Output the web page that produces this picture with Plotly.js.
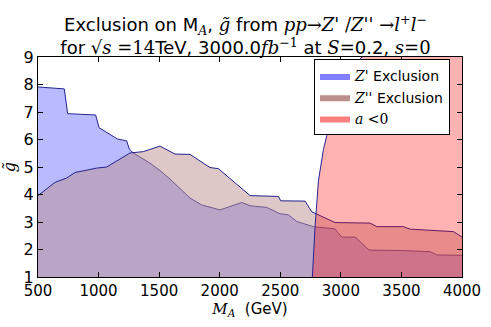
<!DOCTYPE html>
<html>
<head>
<meta charset="utf-8">
<script src="https://cdn.plot.ly/plotly-3.0.1.min.js"></script>
<style>
  body { margin: 0; background: #fff; }
  #myDiv { width: 491px; height: 327px; }
</style>
</head>
<body>
<div id="myDiv"></div>
<script>
// Z' exclusion boundary (M_A in GeV, g~)
var zpM = [500, 717, 745, 976, 1004, 1155, 1232, 1254, 1287, 1425, 1507, 1590, 1755, 1851, 2003, 2182, 2251, 2388, 2498, 2567, 2636, 2773, 2952, 3007, 3118, 3233, 3517, 3737, 3792, 4000];
var zpG = [7.91, 7.84, 6.94, 6.89, 6.43, 6.02, 5.95, 5.65, 5.51, 5.14, 4.87, 4.56, 3.87, 3.62, 3.44, 3.71, 3.59, 3.53, 3.30, 3.26, 3.02, 2.83, 2.75, 2.45, 2.45, 1.98, 1.96, 1.92, 1.80, 1.79];

// Z'' exclusion boundary
var zppM = [500, 640, 737, 806, 985, 1067, 1260, 1370, 1507, 1631, 1755, 1920, 1989, 2251, 2485, 2504, 2705, 2760, 2952, 3241, 3297, 3517, 3572, 3930, 4000];
var zppG = [3.96, 4.44, 4.60, 4.80, 4.96, 5.00, 5.51, 5.56, 5.76, 5.47, 5.46, 4.98, 4.94, 3.96, 3.93, 3.77, 3.76, 3.37, 2.98, 2.96, 2.83, 2.83, 2.74, 2.65, 2.45];

// a<0 boundary, region to the right of it
var aM = [2765, 2787, 2815, 2856, 2884, 2950, 3050, 3145, 3175];
var aG = [1, 2.83, 4.5, 5.63, 6.15, 7.0, 8.0, 8.85, 9];
var xMax = 4000, yMin = 1, yMax = 9;

var xTicks = [500, 1000, 1500, 2000, 2500, 3000, 3500, 4000];
var yTicks = [1, 2, 3, 4, 5, 6, 7, 8, 9];

var edge = 'rgb(35,35,145)';
var serif = "font-family:'DejaVu Serif'";

function m(s) {
    return '<span style="' + serif + '">' + s + '</span>';
}

var names = [m("<i>Z'</i>") + ' Exclusion', m("<i>Z''</i>") + ' Exclusion', m('<i>a</i> &lt;0')];
var legendColors = ['rgba(0,0,255,0.5)', 'rgb(188,143,143)', 'rgba(255,0,0,0.5)'];

var trace0 = {
    x: zpM, y: zpG,
    type: 'scatter', mode: 'lines',
    fill: 'tozeroy',
    fillcolor: 'rgba(0,0,255,0.27)',
    line: {color: edge, width: 1},
    showlegend: false, hoverinfo: 'skip'
};
var trace1 = {
    x: zppM, y: zppG,
    type: 'scatter', mode: 'lines',
    fill: 'tozeroy',
    fillcolor: 'rgba(188,143,143,0.5)',
    line: {color: edge, width: 1},
    showlegend: false, hoverinfo: 'skip'
};
var trace2 = {
    x: aM.concat([xMax, xMax]),
    y: aG.concat([yMax, yMin]),
    type: 'scatter', mode: 'lines',
    fill: 'toself',
    fillcolor: 'rgba(255,0,0,0.3)',
    line: {width: 0},
    showlegend: false, hoverinfo: 'skip'
};
var line2 = {x: aM, y: aG, type: 'scatter', mode: 'lines', line: {color: edge, width: 1}, showlegend: false, hoverinfo: 'skip'};

// legend proxies
var data = [trace0, trace1, trace2, line2];
for (var i = 0; i < 3; i++) {
    data.push({
        x: [null], y: [null],
        type: 'scatter', mode: 'lines',
        fill: 'toself',
        fillcolor: legendColors[i],
        line: {width: 0},
        name: names[i]
    });
}

var layout = {
    width: 491,
    height: 327,
    margin: {l: 38, r: 29, t: 57, b: 50},
    paper_bgcolor: 'white',
    plot_bgcolor: 'white',
    font: {family: 'DejaVu Sans', size: 15, color: 'black'},
    title: {
        text: 'Exclusion on M<sub>' + m('<i>A</i>') + '</sub>, ' + m('<i>g̃</i>') + ' from ' +
              m('<i>pp</i>→<i>Z\'</i> /<i>Z\'\'</i> →<i>l</i><sup>+</sup><i>l</i><sup>−</sup>') +
              '<br>for ' + m('√<i>s</i> =14') + 'TeV, 3000.0' + m('<i>fb</i><sup>−1</sup>') +
              ' at ' + m('<i>S</i>=') + '0.2, ' + m('<i>s</i>=0'),
        font: {size: 18},
        x: 0.5, xanchor: 'center',
        y: 0.905, yanchor: 'top'
    },
    xaxis: {
        range: [500, 4000],
        tickvals: xTicks,
        ticks: 'inside', ticklen: 5, tickcolor: 'black',
        mirror: 'ticks', showline: true, linecolor: 'black', linewidth: 1,
        showgrid: false, zeroline: false,
        tickfont: {size: 15},
        title: {text: m('<i>M<sub>A</sub></i>') + '  (GeV)', font: {size: 15}, standoff: 4}
    },
    yaxis: {
        range: [1, 9],
        tickvals: yTicks,
        ticks: 'inside', ticklen: 5, tickcolor: 'black',
        mirror: 'ticks', showline: true, linecolor: 'black', linewidth: 1,
        showgrid: false, zeroline: false,
        tickfont: {size: 16},
        title: {text: m('<i>g̃</i>'), font: {size: 16}, standoff: 6}
    },
    legend: {
        x: 0.651, y: 0.989, xanchor: 'left', yanchor: 'top',
        bgcolor: 'white', bordercolor: 'black', borderwidth: 1,
        font: {size: 14},
        itemwidth: 30,
        tracegroupgap: 0
    },
    showlegend: true
};

Plotly.newPlot('myDiv', data, layout, {displayModeBar: false, staticPlot: true});
</script>
</body>
</html>
